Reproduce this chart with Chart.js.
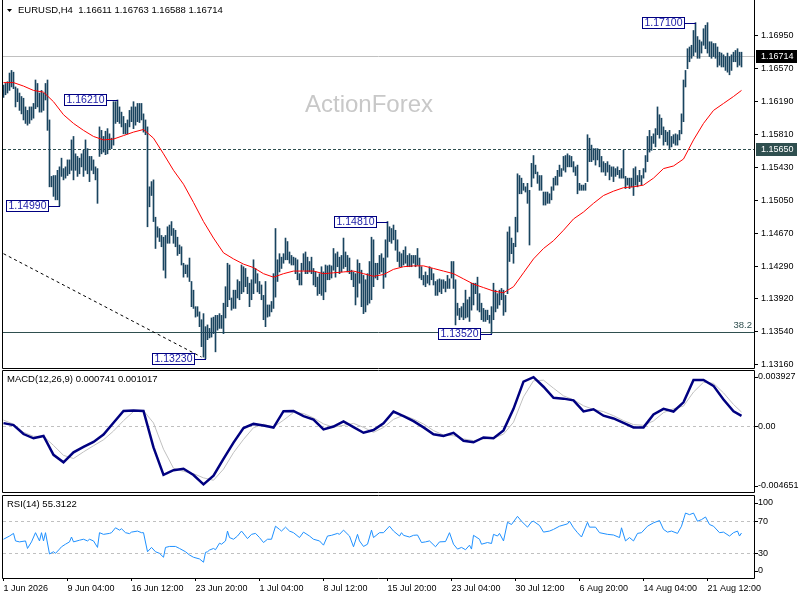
<!DOCTYPE html>
<html><head><meta charset="utf-8">
<script src="https://cdn.jsdelivr.net/npm/chart.js@4.4.1/dist/chart.umd.min.js"></script>
<style>
html,body{margin:0;padding:0;background:#fff;width:800px;height:600px;overflow:hidden}
canvas{position:absolute;left:0}
#c1{top:0;width:800px;height:370px}
#c2{top:370px;width:800px;height:124px}
#c3{top:494px;width:800px;height:106px}
</style></head><body>
<canvas id="c1" width="800" height="370"></canvas>
<canvas id="c2" width="800" height="124"></canvas>
<canvas id="c3" width="800" height="106"></canvas>
<script>
// ---------------- DATA ----------------
const symbol = 'EURUSD,H4';
const lastOHLC = [1.16611, 1.16763, 1.16588, 1.16714];
const watermark = 'ActionForex';

const highs = [
1.1638,1.1640,1.1642,1.1652,1.1655,1.1653,1.1636,1.1634,1.1629,1.1625,
1.1623,1.1613,1.1609,1.1613,1.1613,1.1617,1.1644,1.1640,1.1629,1.1632,
1.1629,1.1640,1.1644,1.1598,1.1533,1.1534,1.1534,1.1540,1.1544,1.1554,
1.1542,1.1544,1.1552,1.1552,1.1575,1.1579,1.1559,1.1556,1.1554,1.1559,
1.1563,1.1575,1.1565,1.1556,1.1556,1.1552,1.1544,1.1542,1.1590,1.1586,
1.1579,1.1585,1.1588,1.1582,1.1577,1.1619,1.1619,1.1621,1.1613,1.1607,
1.1602,1.1594,1.1598,1.1609,1.1613,1.1619,1.1613,1.1617,1.1617,1.1617,
1.1605,1.1598,1.1590,1.1521,1.1527,1.1529,1.1486,1.1475,1.1473,1.1465,
1.1463,1.1465,1.1475,1.1477,1.1481,1.1473,1.1471,1.1463,1.1454,1.1452,
1.1433,1.1431,1.1431,1.1439,1.1412,1.1402,1.1383,1.1383,1.1377,1.1368,
1.1375,1.1360,1.1362,1.1358,1.1370,1.1371,1.1373,1.1373,1.1375,1.1373,
1.1387,1.1406,1.1433,1.1431,1.1393,1.1402,1.1402,1.1414,1.1412,1.1431,
1.1429,1.1427,1.1417,1.1410,1.1414,1.1437,1.1427,1.1421,1.1412,1.1408,
1.1396,1.1412,1.1385,1.1385,1.1389,1.1421,1.1473,1.1437,1.1444,1.1440,
1.1444,1.1462,1.1458,1.1446,1.1442,1.1440,1.1439,1.1437,1.1421,1.1433,
1.1444,1.1446,1.1440,1.1435,1.1440,1.1427,1.1423,1.1417,1.1421,1.1429,
1.1423,1.1431,1.1430,1.1431,1.1430,1.1450,1.1444,1.1446,1.1440,1.1442,
1.1462,1.1446,1.1442,1.1439,1.1425,1.1423,1.1421,1.1437,1.1433,1.1425,
1.1419,1.1414,1.1421,1.1435,1.1463,1.1460,1.1433,1.1433,1.1442,1.1444,
1.1439,1.1460,1.1481,1.1475,1.1473,1.1477,1.1471,1.1460,1.1446,1.1444,
1.1448,1.1452,1.1442,1.1444,1.1442,1.1442,1.1442,1.1450,1.1439,1.1429,
1.1419,1.1423,1.1419,1.1429,1.1427,1.1421,1.1412,1.1414,1.1415,1.1414,
1.1414,1.1412,1.1419,1.1415,1.1435,1.1435,1.1414,1.1387,1.1381,1.1383,
1.1387,1.1402,1.1391,1.1394,1.1410,1.1410,1.1410,1.1417,1.1398,1.1387,
1.1381,1.1379,1.1379,1.1373,1.1383,1.1410,1.1402,1.1398,1.1402,1.1404,
1.1402,1.1396,1.1469,1.1475,1.1462,1.1456,1.1486,1.1536,1.1534,1.1531,
1.1525,1.1521,1.1525,1.1517,1.1548,1.1557,1.1546,1.1538,1.1534,1.1534,
1.1515,1.1515,1.1515,1.1513,1.1521,1.1531,1.1533,1.1540,1.1546,1.1542,
1.1556,1.1557,1.1559,1.1557,1.1556,1.1550,1.1544,1.1546,1.1525,1.1523,
1.1523,1.1525,1.1581,1.1577,1.1569,1.1565,1.1565,1.1565,1.1563,1.1556,
1.1550,1.1548,1.1550,1.1546,1.1544,1.1544,1.1542,1.1544,1.1540,1.1542,
1.1563,1.1533,1.1531,1.1531,1.1531,1.1542,1.1544,1.1534,1.1540,1.1534,
1.1542,1.1557,1.1579,1.1586,1.1579,1.1582,1.1588,1.1613,1.1604,1.1600,
1.1590,1.1586,1.1584,1.1586,1.1579,1.1581,1.1582,1.1581,1.1586,1.1605,
1.1644,1.1655,1.1680,1.1682,1.1684,1.1701,1.1710,1.1694,1.1690,1.1688,
1.1703,1.1707,1.1710,1.1688,1.1688,1.1686,1.1686,1.1682,1.1676,1.1675,
1.1673,1.1671,1.1675,1.1671,1.1673,1.1676,1.1678,1.1680,1.1676,1.1676];

const lows = [
1.1624,1.1627,1.1629,1.1632,1.1636,1.1634,1.1613,1.1619,1.1609,1.1605,
1.1598,1.1594,1.1592,1.1594,1.1598,1.1600,1.1611,1.1613,1.1607,1.1607,
1.1609,1.1621,1.1586,1.1521,1.1521,1.1510,1.1506,1.1506,1.1499,1.1533,
1.1529,1.1531,1.1534,1.1536,1.1540,1.1529,1.1540,1.1533,1.1536,1.1544,
1.1533,1.1540,1.1536,1.1527,1.1540,1.1536,1.1529,1.1502,1.1556,1.1559,
1.1561,1.1558,1.1559,1.1565,1.1565,1.1569,1.1594,1.1596,1.1594,1.1590,
1.1582,1.1582,1.1582,1.1590,1.1596,1.1588,1.1592,1.1596,1.1595,1.1598,
1.1584,1.1581,1.1475,1.1498,1.1511,1.1481,1.1450,1.1463,1.1458,1.1452,
1.1425,1.1416,1.1456,1.1456,1.1465,1.1456,1.1452,1.1442,1.1444,1.1431,
1.1417,1.1421,1.1417,1.1412,1.1383,1.1381,1.1371,1.1372,1.1360,1.1337,
1.1325,1.1323,1.1345,1.1347,1.1348,1.1352,1.1331,1.1356,1.1358,1.1358,
1.1352,1.1370,1.1383,1.1391,1.1379,1.1381,1.1381,1.1393,1.1391,1.1398,
1.1400,1.1406,1.1398,1.1383,1.1391,1.1398,1.1410,1.1400,1.1398,1.1391,
1.1368,1.1360,1.1371,1.1372,1.1377,1.1381,1.1394,1.1412,1.1423,1.1427,
1.1433,1.1437,1.1437,1.1433,1.1431,1.1431,1.1421,1.1414,1.1408,1.1408,
1.1425,1.1421,1.1421,1.1423,1.1421,1.1408,1.1406,1.1396,1.1398,1.1396,
1.1391,1.1400,1.1414,1.1414,1.1416,1.1425,1.1417,1.1429,1.1421,1.1423,
1.1427,1.1429,1.1423,1.1421,1.1414,1.1406,1.1385,1.1394,1.1410,1.1383,
1.1375,1.1377,1.1385,1.1387,1.1391,1.1406,1.1416,1.1414,1.1421,1.1423,
1.1404,1.1417,1.1440,1.1458,1.1456,1.1460,1.1448,1.1435,1.1429,1.1429,
1.1431,1.1433,1.1429,1.1429,1.1429,1.1433,1.1429,1.1431,1.1416,1.1414,
1.1408,1.1406,1.1410,1.1408,1.1414,1.1408,1.1396,1.1396,1.1400,1.1398,
1.1404,1.1400,1.1404,1.1404,1.1416,1.1404,1.1362,1.1373,1.1368,1.1371,
1.1368,1.1370,1.1371,1.1366,1.1379,1.1385,1.1398,1.1379,1.1377,1.1368,
1.1366,1.1366,1.1368,1.1364,1.1352,1.1368,1.1377,1.1381,1.1385,1.1391,
1.1373,1.1377,1.1398,1.1435,1.1444,1.1433,1.1452,1.1469,1.1513,1.1513,
1.1517,1.1515,1.1502,1.1454,1.1521,1.1531,1.1536,1.1525,1.1517,1.1517,
1.1500,1.1500,1.1502,1.1502,1.1506,1.1517,1.1523,1.1523,1.1533,1.1533,
1.1540,1.1538,1.1544,1.1544,1.1544,1.1538,1.1534,1.1513,1.1517,1.1517,
1.1517,1.1517,1.1527,1.1550,1.1550,1.1552,1.1546,1.1552,1.1544,1.1538,
1.1538,1.1534,1.1538,1.1529,1.1533,1.1527,1.1533,1.1535,1.1531,1.1531,
1.1531,1.1519,1.1523,1.1519,1.1521,1.1511,1.1523,1.1521,1.1527,1.1523,
1.1531,1.1538,1.1550,1.1561,1.1563,1.1571,1.1567,1.1581,1.1577,1.1581,
1.1569,1.1573,1.1569,1.1565,1.1567,1.1571,1.1569,1.1569,1.1575,1.1582,
1.1596,1.1636,1.1657,1.1665,1.1669,1.1672,1.1676,1.1669,1.1669,1.1675,
1.1684,1.1680,1.1675,1.1671,1.1669,1.1671,1.1669,1.1659,1.1661,1.1659,
1.1659,1.1655,1.1653,1.1650,1.1655,1.1665,1.1665,1.1659,1.1661,1.1659];

// indicator samples are read every 5th bar (plus the last bar)
const sampleBars = [...Array(74).keys()].map(k => k * 5).concat([369]);

const maValues = [
1.1641,1.1641,1.1637,1.1632,1.1630,1.1619,1.1604,1.1594,1.1586,1.1579,
1.1575,1.1576,1.1580,1.1584,1.1587,1.1577,1.1559,1.1540,1.1524,1.1503,
1.1481,1.1462,1.1445,1.1438,1.1432,1.1428,1.1421,1.1417,1.1421,1.1424,
1.1424,1.1424,1.1421,1.1422,1.1423,1.1424,1.1421,1.1418,1.1420,1.1426,
1.1429,1.1430,1.1430,1.1427,1.1424,1.1421,1.1415,1.1409,1.1405,1.1401,
1.1399,1.1406,1.1422,1.1438,1.1450,1.1459,1.1471,1.1484,1.1492,1.1502,
1.1511,1.1516,1.1520,1.1521,1.1523,1.1531,1.1542,1.1545,1.1553,1.1575,
1.1594,1.1609,1.1617,1.1625,1.1632];

const macdMain = [
0.000232,0.000091,-0.000541,-0.000844,-0.000682,-0.002018,-0.002545,-0.001842,-0.001455,-0.001104,
-0.000576,0.000260,0.001097,0.001125,0.001097,-0.001490,-0.003438,-0.003107,-0.003002,-0.003445,
-0.004113,-0.003494,-0.002299,-0.001146,-0.000120,0.000176,0.000056,-0.000084,0.001076,0.001097,
0.000731,0.000478,-0.000211,-0.000007,0.000359,-0.000049,-0.000450,-0.000260,0.000218,0.001055,
0.000724,0.000373,-0.000070,-0.000555,-0.000682,-0.000457,-0.001019,-0.001125,-0.000787,-0.000844,
-0.000281,0.001244,0.003178,0.003487,0.002812,0.002025,0.001968,0.001849,0.001062,0.001216,
0.000759,0.000562,0.000253,-0.000070,-0.000070,0.000844,0.001244,0.001055,0.001708,0.003297,
0.003290,0.002875,0.001905,0.001069,0.000741];

const macdSignal = [
0.000443,0.000162,-0.000415,-0.000703,-0.000703,-0.001350,-0.002053,-0.002278,-0.001807,-0.001371,
-0.000949,-0.000330,0.000408,0.001055,0.001111,0.000246,-0.001617,-0.002967,-0.003185,-0.003353,
-0.003649,-0.003817,-0.003030,-0.001863,-0.000921,-0.000091,0.000155,-0.000056,0.000443,0.000984,
0.000914,0.000605,0.000176,-0.000056,0.000077,0.000211,-0.000063,-0.000422,-0.000077,0.000499,
0.000787,0.000520,0.000169,-0.000295,-0.000612,-0.000661,-0.000886,-0.001012,-0.000893,-0.000844,
-0.000548,0.000295,0.002095,0.003234,0.003276,0.002707,0.002165,0.001884,0.001462,0.001202,
0.001047,0.000759,0.000408,0.000127,0.000077,0.000387,0.000977,0.001251,0.001441,0.002432,
0.003128,0.003051,0.002376,0.001554,0.001017];

const rsiBars = [
0,3,5,6,8,11,12,14,16,18,
19,20,21,23,25,26,28,29,31,33,
34,35,38,40,42,43,45,47,48,50,
53,54,56,58,59,61,63,64,67,69,
70,72,74,76,78,80,81,83,86,88,
91,93,95,98,100,101,102,103,105,106,
108,109,111,112,113,115,117,119,121,122,
124,126,128,130,132,134,136,138,139,141,
143,145,148,150,153,155,158,160,162,164,
167,168,170,173,175,177,178,180,182,184,
185,188,190,193,195,198,199,200,203,205,
207,209,211,213,216,218,221,223,225,227,
229,231,233,234,235,238,239,242,244,245,
247,248,250,252,254,257,259,262,264,265,
268,270,273,275,278,282,283,285,287,289,
292,293,296,298,302,305,308,309,311,313,
315,317,319,322,325,328,330,332,334,337,
339,341,343,345,347,349,351,353,355,358,
360,363,365,367,368,369];
const rsiValues = [
47.5,51.5,54.8,45.4,44.2,45.4,36.0,44.2,55.7,45.4,
55.7,45.4,55.7,29.1,31.9,29.9,35.2,38.1,41.3,44.2,
50.3,44.2,46.3,47.5,45.4,47.5,45.4,37.3,55.7,53.6,
54.8,55.7,61.8,58.9,60.6,55.7,54.5,56.4,57.7,55.7,
55.7,31.9,37.3,31.9,29.9,25.0,37.3,38.5,38.5,36.0,
31.9,27.8,25.0,22.9,18.8,31.1,31.9,34.0,36.0,34.4,
42.6,41.3,45.4,57.7,49.6,47.5,51.5,57.7,51.5,48.3,
53.6,54.8,49.6,43.4,47.5,47.5,63.8,59.8,57.7,62.6,
57.7,55.7,49.6,56.4,51.5,47.5,45.4,40.1,51.5,52.4,
54.8,53.6,58.9,51.5,38.1,53.6,45.4,38.5,41.3,58.9,
49.6,55.7,55.7,63.8,57.7,51.5,55.7,52.4,50.3,52.4,
52.8,43.4,44.2,45.4,38.1,44.2,44.6,55.7,41.3,35.2,
37.3,34.4,40.1,35.2,52.4,47.5,41.3,43.4,42.2,53.6,
51.5,54.8,45.4,68.7,65.9,76.1,70.0,62.6,69.2,70.0,
64.7,56.4,57.7,59.8,63.8,66.7,70.0,61.8,55.7,50.3,
68.7,62.6,62.6,55.7,53.6,52.8,49.6,61.8,45.4,49.6,
45.4,54.8,55.7,63.8,68.0,70.8,59.8,56.4,57.7,54.8,
63.8,80.2,78.2,80.2,70.0,72.0,75.3,65.9,63.8,55.7,
56.4,51.5,55.7,57.7,51.5,55.3];

// annotations
const markBars   = [28, 57, 101, 192, 244, 346];
const markPrices = [1.1499, 1.1621, 1.1323, 1.1481, 1.1352, 1.1710];
const trendBars   = [0, 99];
const trendPrices = [1.1444, 1.1325];
const dashedLevel = 1.1565;
const fiboLevel = 1.1354;
const fiboText = '38.2';

// axes
const priceTicks = [1.1695,1.1657,1.1619,1.1581,1.1543,1.1505,1.1467,1.1429,1.1392,1.1354,1.1316];
const timeBars = [0,32,64,96,128,160,192,224,256,288,320,352];
const timeLabels = ['1 Jun 2026','9 Jun 04:00','16 Jun 12:00','23 Jun 20:00','1 Jul 04:00','8 Jul 12:00',
  '15 Jul 20:00','23 Jul 04:00','30 Jul 12:00','6 Aug 20:00','14 Aug 04:00','21 Aug 12:00'];
const macdRange = [-0.004651, 0.003927];
const macdHeader = 'MACD(12,26,9) 0.000741 0.001017';
const rsiHeader = 'RSI(14) 55.3122';
const rsiLevels = [70, 30];
const rsiLabels = [100, 70, 30, 0];

// ---------------- RENDER ----------------
const FONT = "'Liberation Sans', Arial, sans-serif";
const X_MIN = -0.25, X_MAX = 375.25;
const P_MIN = 1.13124, P_MAX = 1.17361;
const BAR = '#19445f';

function txt(ctx, s, x, y, color, size, align) {
  ctx.save(); ctx.fillStyle = color; ctx.font = size + 'px ' + FONT;
  ctx.textAlign = align || 'left'; ctx.textBaseline = 'middle'; ctx.fillText(s, x, y); ctx.restore();
}
function hLine(chart, ys, v, color, dash) {
  const {ctx, chartArea: a} = chart;
  const py = Math.round(ys.getPixelForValue(v)) + 0.5;
  ctx.save(); ctx.strokeStyle = color; ctx.lineWidth = 1; ctx.setLineDash(dash || []);
  ctx.beginPath(); ctx.moveTo(a.left, py); ctx.lineTo(a.right, py); ctx.stroke(); ctx.restore();
}
function border(chart, withTop) {
  const {ctx, chartArea: a} = chart;
  ctx.save(); ctx.strokeStyle = '#000'; ctx.lineWidth = 1; ctx.beginPath();
  if (withTop) { ctx.moveTo(a.right + 0.5, a.top - 0.5); ctx.lineTo(a.left - 0.5, a.top - 0.5); }
  else ctx.moveTo(a.left - 0.5, a.top);
  ctx.lineTo(a.left - 0.5, a.bottom + 0.5); ctx.lineTo(a.right + 0.5, a.bottom + 0.5);
  ctx.lineTo(a.right + 0.5, withTop ? a.top - 0.5 : a.top);
  ctx.stroke(); ctx.restore();
}
function sideLabel(chart, s, py) {
  const ctx = chart.ctx, a = chart.chartArea;
  ctx.save(); ctx.strokeStyle = '#000'; ctx.beginPath();
  const yy = Math.round(py) + 0.5;
  ctx.moveTo(a.right + 1, yy); ctx.lineTo(a.right + 4, yy); ctx.stroke(); ctx.restore();
  txt(ctx, s, a.right + 4, py, '#000', 9);
}
const fixedY = { afterFit(s) { s.width = 46; s.paddingTop = 0; s.paddingBottom = 0; } };
const hiddenX = { type: 'linear', min: X_MIN, max: X_MAX, offset: false, display: false, grid: {offset: false} };
const common = { responsive: false, animation: false, events: [], devicePixelRatio: 1,
  plugins: { legend: {display: false}, tooltip: {enabled: false} } };

// ---- main price panel ----
const mainPlugin = {
  id: 'mainPlugin',
  beforeDatasetsDraw(chart) {
    const ctx = chart.ctx, ys = chart.scales.y;
    ctx.save(); ctx.fillStyle = '#c8c8c8'; ctx.font = '24px ' + FONT; ctx.textBaseline = 'alphabetic';
    ctx.fillText(watermark, 305, 112); ctx.restore();
    hLine(chart, ys, lastOHLC[3], '#c0c0c0', []);
    hLine(chart, ys, dashedLevel, '#2f4f4f', [3, 2]);
    hLine(chart, ys, fiboLevel, '#2f4f4f', []);
  },
  afterDatasetsDraw(chart) {
    const ctx = chart.ctx, xs = chart.scales.x, ys = chart.scales.y, a = chart.chartArea;
    txt(ctx, fiboText, a.right - 2, ys.getPixelForValue(fiboLevel) - 6, '#2f4f4f', 9.5, 'right');
    markBars.forEach((b, k) => {
      const px = xs.getPixelForValue(b);
      const py = Math.round(ys.getPixelForValue(markPrices[k]));
      const right = Math.floor(px) - 10, w = 43, h = 12;
      ctx.save();
      ctx.fillStyle = '#fff'; ctx.fillRect(right - w, py - 6, w, h);
      ctx.strokeStyle = '#000080'; ctx.lineWidth = 1;
      ctx.strokeRect(right - w + 0.5, py - 6 + 0.5, w - 1, h - 1);
      ctx.beginPath(); ctx.moveTo(right, py + 0.5); ctx.lineTo(px + 0.5, py + 0.5); ctx.stroke();
      ctx.restore();
      txt(ctx, markPrices[k].toFixed(5), right - w / 2, py + 0.5, '#1a1aa6', 10.5, 'center');
    });
  },
  afterDraw(chart) {
    const ctx = chart.ctx, ys = chart.scales.y, a = chart.chartArea;
    border(chart, false);
    // header
    ctx.save(); ctx.fillStyle = '#000'; ctx.beginPath();
    ctx.moveTo(7, 9); ctx.lineTo(12, 9); ctx.lineTo(9.5, 12); ctx.closePath(); ctx.fill(); ctx.restore();
    txt(ctx, symbol + '  ' + lastOHLC.map(v => v.toFixed(5)).join(' '), 18, 10.5, '#000', 9.5);
    // axis price boxes
    [[lastOHLC[3], '#000000'], [dashedLevel, '#2f4f4f']].forEach(([v, c]) => {
      const py = Math.round(ys.getPixelForValue(v));
      ctx.save(); ctx.fillStyle = c; ctx.fillRect(a.right + 2, py - 6, 41, 13); ctx.restore();
      txt(ctx, v.toFixed(5), a.right + 7, py + 0.5, '#fff', 9);
    });
  }
};

new Chart(document.getElementById('c1'), {
  type: 'bar',
  data: { datasets: [
    { type: 'line', order: 1, data: sampleBars.map((b, k) => ({x: b, y: maValues[k]})),
      borderColor: '#ff0000', borderWidth: 1, pointRadius: 0, tension: 0 },
    { type: 'line', order: 2, data: trendBars.map((b, k) => ({x: b, y: trendPrices[k]})),
      borderColor: '#000000', borderWidth: 1, borderDash: [3, 3], pointRadius: 0 },
    { type: 'bar', order: 3, data: highs.map((h, i) => ({x: i, y: [lows[i], h]})),
      backgroundColor: BAR, borderWidth: 0, barThickness: 1, borderSkipped: false }
  ]},
  options: Object.assign({}, common, {
    layout: { padding: {left: 3, right: 0, top: 0, bottom: 2} },
    scales: {
      x: hiddenX,
      y: Object.assign({ type: 'linear', position: 'right', min: P_MIN, max: P_MAX, beginAtZero: false,
        afterBuildTicks(s) { s.ticks = priceTicks.map(v => ({value: v})); },
        ticks: { autoSkip: false, padding: 3, color: '#000', font: {family: FONT, size: 9},
                 callback: v => Number(v).toFixed(5) },
        grid: { display: true, drawOnChartArea: false, drawTicks: true, tickLength: 4, color: '#000' },
        border: { display: false } }, fixedY)
    }
  }),
  plugins: [mainPlugin]
});

// ---- MACD panel ----
const macdPlugin = {
  id: 'macdPlugin',
  beforeDatasetsDraw(chart) { hLine(chart, chart.scales.y, 0, '#c0c0c0', [3, 3]); },
  afterDraw(chart) {
    const ys = chart.scales.y;
    border(chart, true);
    txt(chart.ctx, macdHeader, 7, 9.5, '#000', 9.5);
    sideLabel(chart, macdRange[1].toFixed(6), ys.getPixelForValue(macdRange[1]) + 6);
    sideLabel(chart, '0.00', ys.getPixelForValue(0));
    sideLabel(chart, macdRange[0].toFixed(6), ys.getPixelForValue(macdRange[0]) - 6);
  }
};
new Chart(document.getElementById('c2'), {
  type: 'line',
  data: { datasets: [
    { order: 1, data: sampleBars.map((b, k) => ({x: b, y: macdMain[k]})),
      borderColor: '#000080', borderWidth: 2.5, pointRadius: 0, tension: 0 },
    { order: 2, data: sampleBars.map((b, k) => ({x: b, y: macdSignal[k]})),
      borderColor: '#c0c0c0', borderWidth: 1, pointRadius: 0, tension: 0 }
  ]},
  options: Object.assign({}, common, {
    layout: { padding: {left: 3, right: 0, top: 1, bottom: 2} },
    scales: {
      x: hiddenX,
      y: Object.assign({ type: 'linear', position: 'right', min: macdRange[0], max: macdRange[1],
        ticks: {display: false}, grid: {display: false}, border: {display: false} }, fixedY)
    }
  }),
  plugins: [macdPlugin]
});

// ---- RSI panel ----
const rsiPlugin = {
  id: 'rsiPlugin',
  beforeDatasetsDraw(chart) { rsiLevels.forEach(v => hLine(chart, chart.scales.y, v, '#c0c0c0', [3, 3])); },
  afterDraw(chart) {
    const ys = chart.scales.y;
    border(chart, true);
    txt(chart.ctx, rsiHeader, 7, 10.5, '#000', 9.5);
    rsiLabels.forEach(v => {
      let py = ys.getPixelForValue(v);
      if (v === 100) py += 5.5;
      if (v === 0) py -= 6.5;
      sideLabel(chart, String(v), py);
    });
  }
};
new Chart(document.getElementById('c3'), {
  type: 'line',
  data: { datasets: [
    { data: rsiBars.map((b, k) => ({x: b, y: rsiValues[k]})),
      borderColor: '#1e90ff', borderWidth: 1, pointRadius: 0, tension: 0 }
  ]},
  options: Object.assign({}, common, {
    layout: { padding: {left: 3, right: 0, top: 2, bottom: 0} },
    scales: {
      x: { type: 'linear', min: X_MIN, max: X_MAX, offset: false, position: 'bottom',
        afterBuildTicks(s) { s.ticks = timeBars.map(v => ({value: v})); },
        afterFit(s) { s.height = 22; s.paddingLeft = 0; s.paddingRight = 0; },
        ticks: { autoSkip: false, maxRotation: 0, minRotation: 0, align: 'start', padding: 2,
                 color: '#000', font: {family: FONT, size: 9}, callback: (v, i) => timeLabels[i] },
        grid: { display: true, offset: false, drawOnChartArea: false, tickLength: 3, color: '#000' },
        border: { display: false } },
      y: Object.assign({ type: 'linear', position: 'right', min: -0.9, max: 101.5,
        ticks: {display: false}, grid: {display: false}, border: {display: false} }, fixedY)
    }
  }),
  plugins: [rsiPlugin]
});
</script>
</body></html>
